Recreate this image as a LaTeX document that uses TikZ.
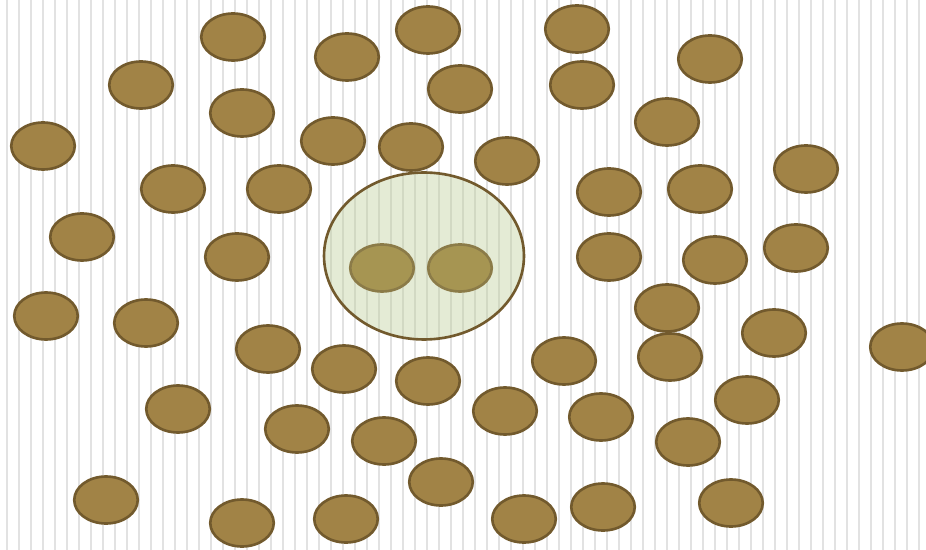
\documentclass[tikz,border=0pt]{standalone}
\usepackage{tikz}
\usetikzlibrary{shapes.geometric}

\definecolor{blobfill}{RGB}{161,131,70}
\definecolor{blobline}{RGB}{114,90,45}
\definecolor{cellfill}{RGB}{188,205,150}
\definecolor{nucfill}{RGB}{166,149,82}
\definecolor{nucline}{RGB}{139,123,72}
\definecolor{stripe}{RGB}{226,226,226}

\tikzset{
  blob/.style={ellipse,draw=blobline,fill=blobfill,line width=1.5pt,
    minimum width=1.27cm,minimum height=0.94cm,inner sep=0pt},
  bigcell/.style={ellipse,draw=blobline,fill=cellfill,fill opacity=0.4,
    line width=1.5pt,minimum width=4cm,minimum height=3.34cm,inner sep=0pt},
  nucleus/.style={blob,draw=nucline,fill=nucfill}
}

\begin{document}
\begin{tikzpicture}[x=0.02cm,y=-0.02cm]

		\useasboundingbox (0,0) rectangle (926,550);
		
		% Background stripes
		\foreach \k in {0,...,76}
		\draw[stripe,line width=0.75pt] (7+12*\k,0) -- (7+12*\k,550);
		
		% Large cell in the middle
		\node[bigcell] (cell) at (424,256) {};
		
		% Two nuclei inside the cell
		\node[nucleus] (nucL) at (382,268) {};
		\node[nucleus] (nucR) at (460,268) {};
		
		% Scattered small cells
		\foreach \x/\y [count=\i] in {
			233/37, 347/57, 428/30, 577/29, 710/59,
			141/85, 242/113, 460/89, 582/85, 667/122,
			43/146, 333/141, 411/147, 507/161, 806/169,
			173/189, 279/189, 609/192, 700/189,
			82/237, 237/257, 609/257, 715/260, 796/248,
			667/308, 46/316, 146/323, 268/349, 344/369,
			428/381, 564/361, 670/357, 774/333, 902/347,
			178/409, 297/429, 384/441, 505/411, 601/417,
			747/400, 688/442, 441/482, 106/500, 242/523,
			346/519, 524/519, 603/507, 731/503}
		\node[blob] (b\i) at (\x,\y) {};
		
	\end{tikzpicture}
\end{document}
